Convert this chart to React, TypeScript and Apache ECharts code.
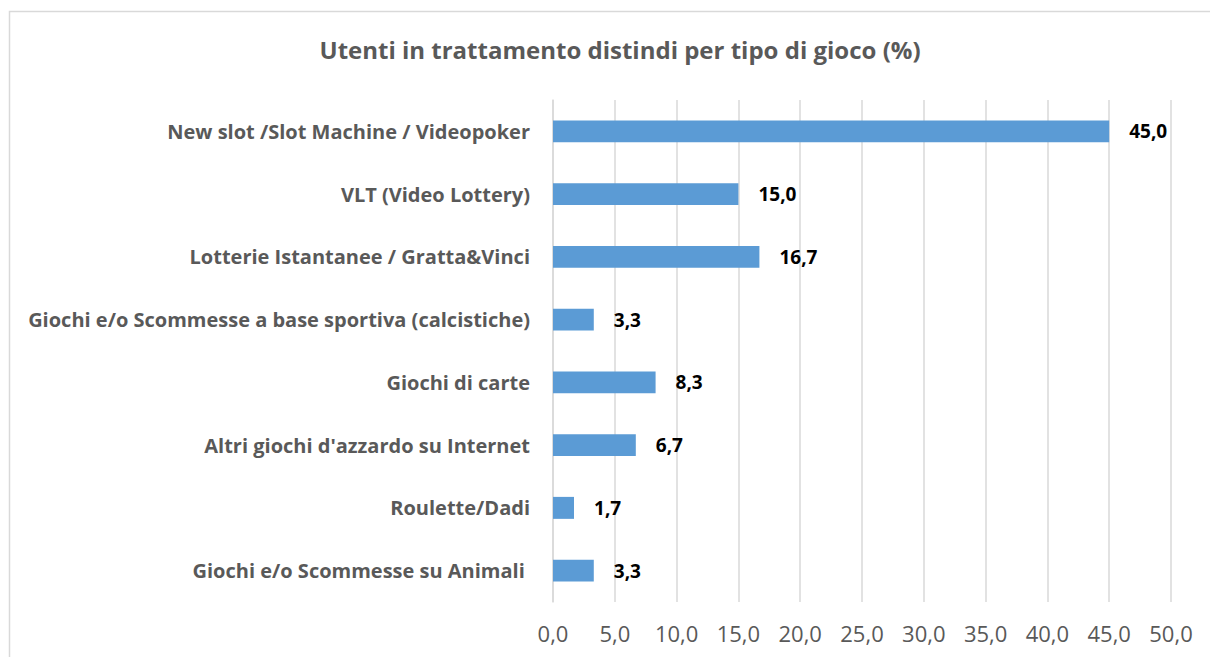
import React, { useEffect, useRef } from "react";
import * as echarts from "echarts";

const categories = [
  "New slot /Slot Machine / Videopoker",
  "VLT (Video Lottery)",
  "Lotterie Istantanee / Gratta&Vinci",
  "Giochi e/o Scommesse a base sportiva (calcistiche)",
  "Giochi di carte",
  "Altri giochi d'azzardo su Internet",
  "Roulette/Dadi",
  "Giochi e/o Scommesse su Animali ",
];
const values = [45.0, 15.0, 16.7, 3.3, 8.3, 6.7, 1.7, 3.3];
const titleText = "Utenti in trattamento distindi per tipo di gioco (%)";

const fmt = (v: number) => v.toFixed(1).replace(".", ",");

export default function App() {
  const ref = useRef<HTMLDivElement>(null);
  useEffect(() => {
    if (!ref.current) return;
    const chart = echarts.init(ref.current, undefined, { renderer: "svg" });
    const font = "'Open Sans', sans-serif";
    chart.setOption({
      animation: false,
      backgroundColor: "#ffffff",
      title: {
        text: titleText,
        left: 615,
        top: 32,
        textAlign: "center",
        textStyle: { fontFamily: font, fontSize: 24, fontWeight: "bold", color: "#595959" },
      },
      graphic: [
        {
          type: "rect",
          shape: { x: 9.5, y: 11.5, width: 1230, height: 670 },
          style: { fill: "none", stroke: "#d9d9d9", lineWidth: 1.5 },
          silent: true,
        },
      ],
      grid: { left: 553, right: 39, top: 100, bottom: 55, containLabel: false },
      xAxis: {
        type: "value",
        min: 0,
        max: 50,
        interval: 5,
        axisLine: { show: false },
        axisTick: { show: false },
        splitLine: { show: true, lineStyle: { color: "#d9d9d9", width: 1.5 } },
        axisLabel: {
          formatter: (v: number) => fmt(v),
          fontFamily: font,
          fontSize: 22,
          color: "#595959",
          margin: 20,
        },
      },
      yAxis: {
        type: "category",
        data: categories,
        inverse: true,
        axisLine: { show: true, lineStyle: { color: "#d9d9d9", width: 1.5 } },
        axisTick: { show: false },
        axisLabel: {
          fontFamily: font,
          fontSize: 20,
          fontWeight: "bold",
          color: "#595959",
          margin: 23,
        },
      },
      series: [
        {
          type: "bar",
          data: values,
          barWidth: "35%",
          itemStyle: { color: "#5b9bd5" },
          label: {
            show: true,
            position: "right",
            distance: 20,
            formatter: (p: any) => fmt(p.value),
            fontFamily: font,
            fontSize: 19,
            fontWeight: "bold",
            color: "#000000",
          },
        },
      ],
    });
    return () => chart.dispose();
  }, []);
  return (
    <div
      ref={ref}
      style={{ position: "fixed", left: 0, top: 0, width: 1210, height: 657 }}
    />
  );
}
